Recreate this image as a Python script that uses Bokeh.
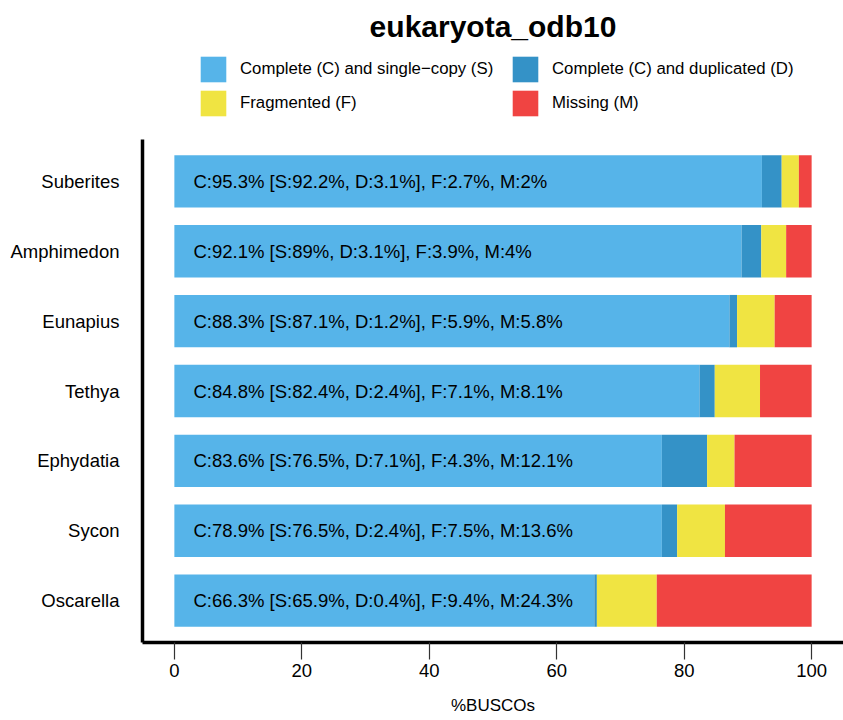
from bokeh.plotting import figure
from bokeh.layouts import column
from bokeh.models import (ColumnDataSource, Range1d, FactorRange, FixedTicker,
                          Legend, LegendItem)
from bokeh.core.properties import value
from bokeh.embed import file_html
from bokeh.resources import INLINE

# ---- data ----
species = ["Suberites", "Amphimedon", "Eunapius", "Tethya",
           "Ephydatia", "Sycon", "Oscarella"]
single = [92.2, 89.0, 87.1, 82.4, 76.5, 76.5, 65.9]
duplicated = [3.1, 3.1, 1.2, 2.4, 7.1, 2.4, 0.4]
fragmented = [2.7, 3.9, 5.9, 7.1, 4.3, 7.5, 9.4]
missing = [2.0, 4.0, 5.8, 8.1, 12.1, 13.6, 24.3]
x_ticks = [0, 20, 40, 60, 80, 100]
title_text = "eukaryota_odb10"
x_label = "%BUSCOs"
series_labels = ["Complete (C) and single\u2212copy (S)",
                 "Complete (C) and duplicated (D)",
                 "Fragmented (F)",
                 "Missing (M)"]
colors = ["#56B4E9", "#3492C7", "#F0E442", "#F04442"]


def fmt(v):
    return f"{round(v, 1):g}"


labels = [f"C:{fmt(s + d)}% [S:{fmt(s)}%, D:{fmt(d)}%], F:{fmt(f)}%, M:{fmt(m)}%"
          for s, d, f, m in zip(single, duplicated, fragmented, missing)]

keys = ["S", "D", "F", "M"]
source = ColumnDataSource(dict(species=species, S=single, D=duplicated,
                               F=fragmented, M=missing, label=labels,
                               tx=[3] * len(species)))

FONT = "Liberation Sans"

# ---------------- header: title + legend ----------------
head = figure(width=843, height=139, output_backend="svg", toolbar_location=None,
              x_range=Range1d(0, 1), y_range=Range1d(0, 1),
              min_border_left=142, min_border_right=0, min_border_top=42,
              min_border_bottom=0, title=title_text)
head.axis.visible = False
head.grid.visible = False
head.outline_line_color = None
head.title.text_font = FONT
head.title.text_font_size = "30px"
head.title.text_font_style = "bold"
head.title.align = "center"
head.title.standoff = 0
head.title.text_color = "black"

# legend-only glyphs (kept well outside the header's visible range)
legend_source = ColumnDataSource(dict(y=[50], left=[50], right=[51]))
head_renderers = [head.hbar(y="y", left="left", right="right", height=0.5,
                            source=legend_source, fill_color=c, line_width=0)
                  for c in colors]
items = [LegendItem(label=lab, renderers=[r])
         for lab, r in zip(series_labels, head_renderers)]
legend = Legend(items=items, location=(55, 20), orientation="horizontal", ncols=2,
                glyph_width=32, glyph_height=32, label_standoff=11, spacing=2,
                label_width=267, label_text_font=FONT, label_text_font_size="16.8px",
                label_text_color="black", padding=0, margin=0,
                border_line_alpha=0, background_fill_alpha=0)
head.add_layout(legend, "center")

# ---------------- main chart ----------------
p = figure(width=843, height=581, output_backend="svg", toolbar_location=None,
           y_range=FactorRange(factors=list(reversed(species)),
                               range_padding=0.1, range_padding_units="absolute"),
           x_range=Range1d(-5, 105),
           min_border_left=142, min_border_right=0, min_border_top=0,
           min_border_bottom=78)

p.hbar_stack(keys, y="species", height=0.75, source=source,
             color=colors, line_width=0)

p.text(x="tx", y="species", text="label", source=source,
       text_font=value(FONT), text_font_size="18.5px", text_color="black",
       text_align="left", text_baseline="middle")

p.xgrid.visible = False
p.ygrid.visible = False
p.outline_line_color = None

xa = p.xaxis[0]
xa.ticker = FixedTicker(ticks=x_ticks)
xa.axis_line_width = 3.5
xa.axis_line_color = "black"
xa.major_tick_out = 17
xa.major_tick_in = 0
xa.major_tick_line_color = "#333333"
xa.major_tick_line_width = 1.2
xa.minor_tick_out = 0
xa.minor_tick_in = 0
xa.major_label_standoff = 4
xa.major_label_text_font = FONT
xa.major_label_text_font_size = "18.5px"
xa.major_label_text_color = "black"
xa.axis_label = x_label
xa.axis_label_text_font = FONT
xa.axis_label_text_font_size = "17px"
xa.axis_label_text_font_style = "normal"
xa.axis_label_text_color = "black"
xa.axis_label_standoff = 16

ya = p.yaxis[0]
ya.axis_line_width = 3.5
ya.axis_line_color = "black"
ya.major_tick_out = 0
ya.major_tick_in = 0
ya.minor_tick_out = 0
ya.major_label_standoff = 23
ya.major_label_text_font = FONT
ya.major_label_text_font_size = "18.5px"
ya.major_label_text_color = "black"

layout = column(head, p, spacing=0)
open("out.html", "w").write(file_html(layout, INLINE))
